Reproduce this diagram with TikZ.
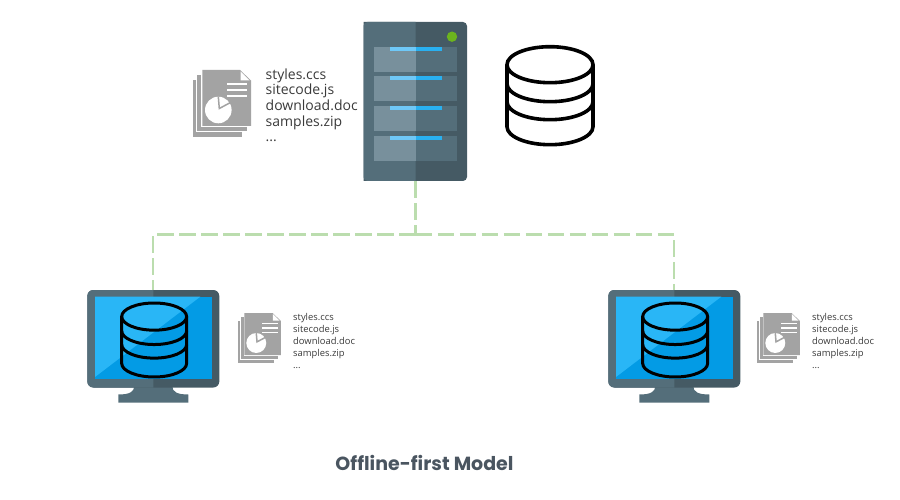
\documentclass[tikz,border=0pt]{standalone}
\usepackage{fontspec}
\setmainfont{Open Sans}
\newfontfamily\titlefont{Poppins}
\definecolor{srvA}{HTML}{546E7A}
\definecolor{srvB}{HTML}{455A64}
\definecolor{slotA}{HTML}{78909C}
\definecolor{slotB}{HTML}{546E7A}
\definecolor{barA}{HTML}{6FC8F7}
\definecolor{barB}{HTML}{29B0F0}
\definecolor{scrD}{HTML}{039BE5}
\definecolor{scrL}{HTML}{29B6F6}
\definecolor{docg}{HTML}{A3A3A3}
\definecolor{dashg}{HTML}{BBDDAE}
\definecolor{titleg}{HTML}{4A5560}
\definecolor{txtg}{HTML}{3A3A3A}
\definecolor{ledg}{HTML}{6CB41E}
\tikzset{
  x=1pt,y=-1pt,
  link/.style={draw=dashg,line width=2.2pt,dash pattern=on 16.5pt off 5.5pt},
  listtext/.style={anchor=north west,inner sep=0pt,align=left,text=txtg},
  dbline/.style={draw=black,line width=#1,fill=none},
  pics/docicon/.style={code={
    \fill[docg] (0.3,10) rectangle (48.7,66.7);
    \fill[white] (3.3,4) rectangle (53.7,62);
    \fill[docg] (4.3,5) rectangle (53.7,61);
    \fill[white] (8.3,-1) rectangle (59,57);
    \fill[docg] (9.3,0) -- (47,0) -- (58,10.5) -- (58,56) -- (9.3,56) -- cycle;
    \fill[white] (47.5,1.5) -- (56.5,10.3) -- (47.5,10.3) -- cycle;
    \fill[white] (33.5,13) rectangle (54,15);
    \fill[white] (33.5,19) rectangle (54,21);
    \fill[white] (33.5,25) rectangle (54,27);
    \fill[white] (25.3,40) circle[radius=13.3];
    \draw[docg,line width=1.5pt] (25.3,26.5) -- (26.3,38.5) -- (37.5,32.5);
  }},
  pics/dbicon/.style={code={
    \draw[dbline=#1] (43,18) ellipse[x radius=43,y radius=18];
    \draw[dbline=#1] (0,18) -- (0,80) arc[start angle=180,end angle=0,x radius=43,y radius=18] -- (86,18);
    \draw[dbline=#1] (0,37) arc[start angle=180,end angle=0,x radius=43,y radius=18];
    \draw[dbline=#1] (0,55) arc[start angle=180,end angle=0,x radius=43,y radius=18];
  }},
  pics/monitor/.style={code={
    \fill[srvA] (47,96) .. controls (47,102) and (42,104.5) .. (31,104.5) -- (31,112.5) -- (101,112.5) -- (101,104.5) .. controls (90,104.5) and (85,102) .. (85,96) -- cycle;
    \fill[srvB,rounded corners=6pt] (0,0) rectangle (132,97.5);
    \begin{scope}
      \clip (-1,-1) rectangle (66,99);
      \fill[srvA,rounded corners=6pt] (0,0) rectangle (132,97.5);
    \end{scope}
    \fill[scrD] (7.7,6.7) rectangle (124.7,89.3);
    \fill[scrL] (7.7,6.7) -- (113,6.7) -- (7.7,87) -- cycle;
  }}
}
\begin{document}
\begin{tikzpicture}
\useasboundingbox (0,0) rectangle (900,500);
% connectors
\coordinate (srvbot) at (415.5,181);
\coordinate (junction) at (415.5,234.5);
\coordinate (leftj) at (153,234.5);
\coordinate (rightj) at (674,234.5);
\coordinate (leftmon) at (153,290);
\coordinate (rightmon) at (674,290);
\draw[link] (srvbot) -- (junction);
\draw[link] (junction) -- (leftj) -- (leftmon);
\draw[link] (junction) -- (rightj) -- (rightmon);
% server
\fill[srvB,rounded corners=4pt] (363.5,22) -- (467,22) -- (467,181) [sharp corners] -- (363.5,181) -- cycle;
\begin{scope}
  \clip (360,20) rectangle (415.7,183);
  \fill[srvA,rounded corners=4pt] (363.5,181) -- (363.5,22) -- (467,22) -- (467,181) -- cycle;
\end{scope}
\foreach \yy in {46.7,76,106,135.7}{
  \fill[slotA] (374,\yy) rectangle (415.7,\yy+25);
  \fill[slotB] (415.7,\yy) rectangle (457,\yy+25);
  \fill[barA] (389.5,\yy) rectangle (415.7,\yy+4.3);
  \fill[barB] (415.7,\yy) rectangle (441.5,\yy+4.3);
}
\fill[ledg] (452,36.7) circle[radius=5.2];
% top files and db
\pic at (193,70) {docicon};
\node[listtext,font=\fontsize{14}{15.6}\selectfont] (toplist) at (265.5,68.5) {styles.ccs\\sitecode.js\\download.doc\\samples.zip\\...};
\pic at (507,46.7) {dbicon=3.6pt};
% left client
\pic at (87.3,290) {monitor};
\pic[scale=0.755] at (121.7,303) {dbicon=3pt};
\pic[scale=0.75] at (237.3,313) {docicon};
\node[listtext,font=\fontsize{9.4}{11.9}\selectfont] (leftlist) at (293,313.5) {styles.ccs\\sitecode.js\\download.doc\\samples.zip\\...};
% right client
\pic at (608.3,290) {monitor};
\pic[scale=0.755] at (642.7,303) {dbicon=3pt};
\pic[scale=0.75] at (756.3,313) {docicon};
\node[listtext,font=\fontsize{9.4}{11.9}\selectfont] (rightlist) at (812,313.5) {styles.ccs\\sitecode.js\\download.doc\\samples.zip\\...};
% title
\node[anchor=center,inner sep=0pt,text=titleg,font=\titlefont\fontsize{19}{22}\selectfont\bfseries] (title) at (424.5,463) {Offline-first Model};
\end{tikzpicture}
\end{document}
